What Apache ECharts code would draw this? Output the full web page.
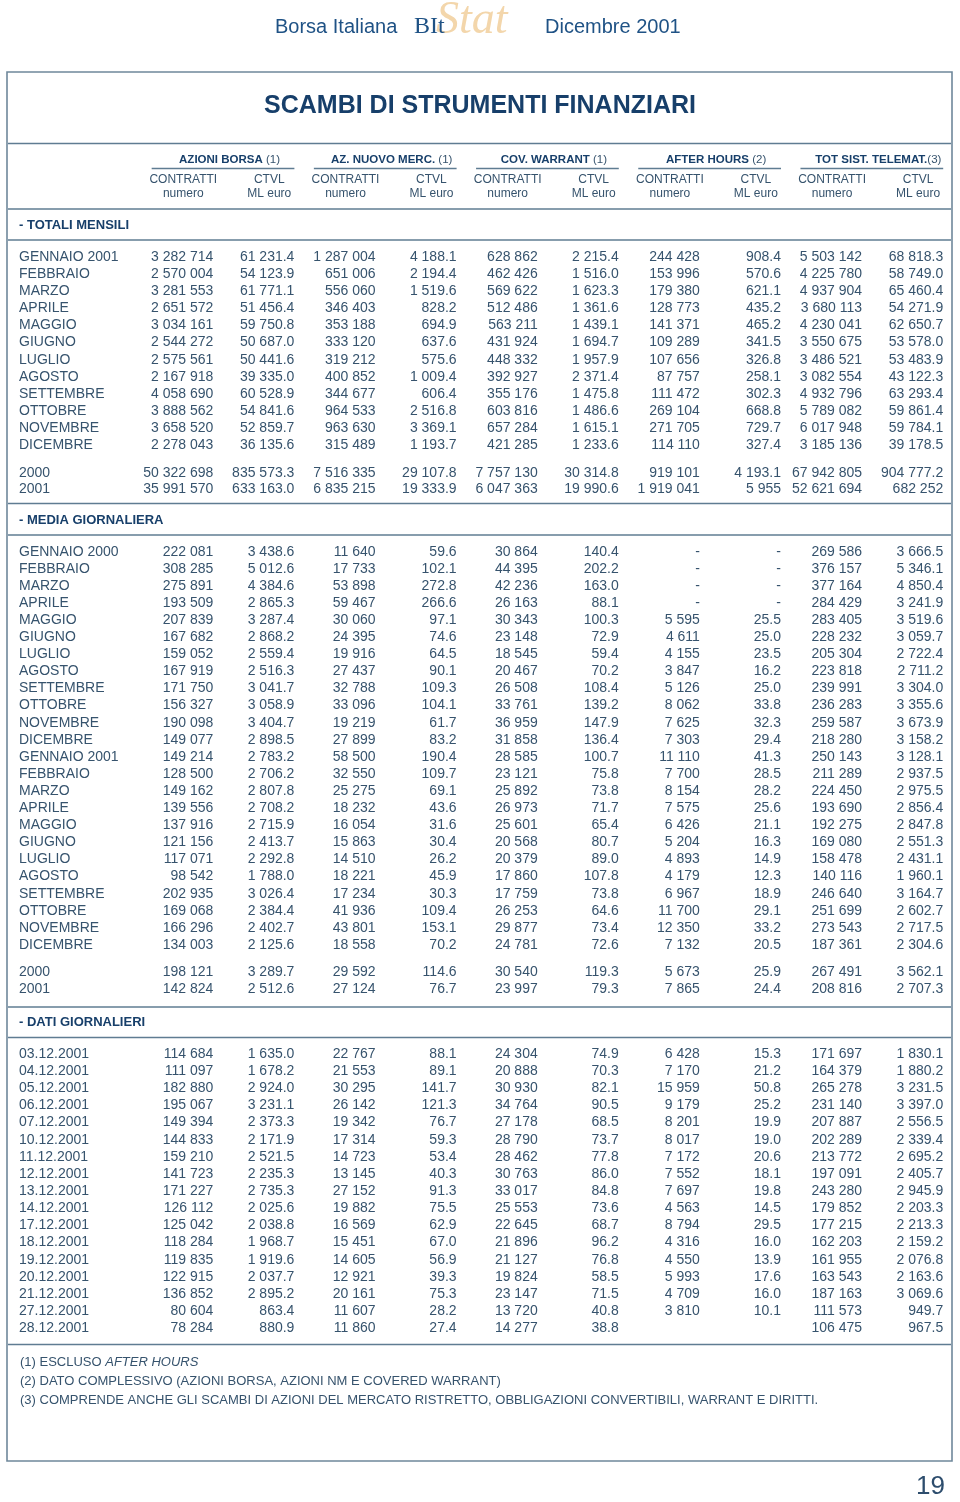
<!DOCTYPE html>
<html><head><meta charset="utf-8">
<script src="https://cdn.jsdelivr.net/npm/echarts@6/dist/echarts.min.js"></script>
<style>html,body{margin:0;padding:0;background:#fff}#c{width:960px;height:1502px}</style>
</head><body><div id="c"></div>
<script>
// ---------- DATA ----------
const groupTitles = [['AZIONI BORSA', ' (1)'], ['AZ. NUOVO MERC.', ' (1)'], ['COV. WARRANT', ' (1)'], ['AFTER HOURS', ' (2)'], ['TOT SIST. TELEMAT.', '(3)']];
const subHeaders = [['CONTRATTI', 'numero'], ['CTVL', 'ML euro']];
const sectionTitles = ['- TOTALI MENSILI', '- MEDIA GIORNALIERA', '- DATI GIORNALIERI'];

const months2001 = ['GENNAIO 2001', 'FEBBRAIO', 'MARZO', 'APRILE', 'MAGGIO', 'GIUGNO', 'LUGLIO', 'AGOSTO', 'SETTEMBRE', 'OTTOBRE', 'NOVEMBRE', 'DICEMBRE'];
const months2000_2001 = ['GENNAIO 2000', 'FEBBRAIO', 'MARZO', 'APRILE', 'MAGGIO', 'GIUGNO', 'LUGLIO', 'AGOSTO', 'SETTEMBRE', 'OTTOBRE', 'NOVEMBRE', 'DICEMBRE',
  'GENNAIO 2001', 'FEBBRAIO', 'MARZO', 'APRILE', 'MAGGIO', 'GIUGNO', 'LUGLIO', 'AGOSTO', 'SETTEMBRE', 'OTTOBRE', 'NOVEMBRE', 'DICEMBRE'];
const years = ['2000', '2001'];
const days = ['03.12.2001', '04.12.2001', '05.12.2001', '06.12.2001', '07.12.2001', '10.12.2001', '11.12.2001', '12.12.2001', '13.12.2001', '14.12.2001',
  '17.12.2001', '18.12.2001', '19.12.2001', '20.12.2001', '21.12.2001', '27.12.2001', '28.12.2001'];

// columns: azioni contratti, azioni ctvl, nm contratti, nm ctvl, cw contratti, cw ctvl, ah contratti, ah ctvl, tot contratti, tot ctvl
const totaliMensili = [
  [3282714, 61231.4, 1287004, 4188.1, 628862, 2215.4, 244428, 908.4, 5503142, 68818.3],
  [2570004, 54123.9, 651006, 2194.4, 462426, 1516.0, 153996, 570.6, 4225780, 58749.0],
  [3281553, 61771.1, 556060, 1519.6, 569622, 1623.3, 179380, 621.1, 4937904, 65460.4],
  [2651572, 51456.4, 346403, 828.2, 512486, 1361.6, 128773, 435.2, 3680113, 54271.9],
  [3034161, 59750.8, 353188, 694.9, 563211, 1439.1, 141371, 465.2, 4230041, 62650.7],
  [2544272, 50687.0, 333120, 637.6, 431924, 1694.7, 109289, 341.5, 3550675, 53578.0],
  [2575561, 50441.6, 319212, 575.6, 448332, 1957.9, 107656, 326.8, 3486521, 53483.9],
  [2167918, 39335.0, 400852, 1009.4, 392927, 2371.4, 87757, 258.1, 3082554, 43122.3],
  [4058690, 60528.9, 344677, 606.4, 355176, 1475.8, 111472, 302.3, 4932796, 63293.4],
  [3888562, 54841.6, 964533, 2516.8, 603816, 1486.6, 269104, 668.8, 5789082, 59861.4],
  [3658520, 52859.7, 963630, 3369.1, 657284, 1615.1, 271705, 729.7, 6017948, 59784.1],
  [2278043, 36135.6, 315489, 1193.7, 421285, 1233.6, 114110, 327.4, 3185136, 39178.5]
];
const totaliAnnui = [
  [50322698, 835573.3, 7516335, 29107.8, 7757130, 30314.8, 919101, 4193.1, 67942805, 904777.2],
  [35991570, 633163.0, 6835215, 19333.9, 6047363, 19990.6, 1919041, 5955, 52621694, 682252]
];
const mediaMensile = [
  [222081, 3438.6, 11640, 59.6, 30864, 140.4, null, null, 269586, 3666.5],
  [308285, 5012.6, 17733, 102.1, 44395, 202.2, null, null, 376157, 5346.1],
  [275891, 4384.6, 53898, 272.8, 42236, 163.0, null, null, 377164, 4850.4],
  [193509, 2865.3, 59467, 266.6, 26163, 88.1, null, null, 284429, 3241.9],
  [207839, 3287.4, 30060, 97.1, 30343, 100.3, 5595, 25.5, 283405, 3519.6],
  [167682, 2868.2, 24395, 74.6, 23148, 72.9, 4611, 25.0, 228232, 3059.7],
  [159052, 2559.4, 19916, 64.5, 18545, 59.4, 4155, 23.5, 205304, 2722.4],
  [167919, 2516.3, 27437, 90.1, 20467, 70.2, 3847, 16.2, 223818, 2711.2],
  [171750, 3041.7, 32788, 109.3, 26508, 108.4, 5126, 25.0, 239991, 3304.0],
  [156327, 3058.9, 33096, 104.1, 33761, 139.2, 8062, 33.8, 236283, 3355.6],
  [190098, 3404.7, 19219, 61.7, 36959, 147.9, 7625, 32.3, 259587, 3673.9],
  [149077, 2898.5, 27899, 83.2, 31858, 136.4, 7303, 29.4, 218280, 3158.2],
  [149214, 2783.2, 58500, 190.4, 28585, 100.7, 11110, 41.3, 250143, 3128.1],
  [128500, 2706.2, 32550, 109.7, 23121, 75.8, 7700, 28.5, 211289, 2937.5],
  [149162, 2807.8, 25275, 69.1, 25892, 73.8, 8154, 28.2, 224450, 2975.5],
  [139556, 2708.2, 18232, 43.6, 26973, 71.7, 7575, 25.6, 193690, 2856.4],
  [137916, 2715.9, 16054, 31.6, 25601, 65.4, 6426, 21.1, 192275, 2847.8],
  [121156, 2413.7, 15863, 30.4, 20568, 80.7, 5204, 16.3, 169080, 2551.3],
  [117071, 2292.8, 14510, 26.2, 20379, 89.0, 4893, 14.9, 158478, 2431.1],
  [98542, 1788.0, 18221, 45.9, 17860, 107.8, 4179, 12.3, 140116, 1960.1],
  [202935, 3026.4, 17234, 30.3, 17759, 73.8, 6967, 18.9, 246640, 3164.7],
  [169068, 2384.4, 41936, 109.4, 26253, 64.6, 11700, 29.1, 251699, 2602.7],
  [166296, 2402.7, 43801, 153.1, 29877, 73.4, 12350, 33.2, 273543, 2717.5],
  [134003, 2125.6, 18558, 70.2, 24781, 72.6, 7132, 20.5, 187361, 2304.6]
];
const mediaAnnua = [
  [198121, 3289.7, 29592, 114.6, 30540, 119.3, 5673, 25.9, 267491, 3562.1],
  [142824, 2512.6, 27124, 76.7, 23997, 79.3, 7865, 24.4, 208816, 2707.3]
];
const datiGiornalieri = [
  [114684, 1635.0, 22767, 88.1, 24304, 74.9, 6428, 15.3, 171697, 1830.1],
  [111097, 1678.2, 21553, 89.1, 20888, 70.3, 7170, 21.2, 164379, 1880.2],
  [182880, 2924.0, 30295, 141.7, 30930, 82.1, 15959, 50.8, 265278, 3231.5],
  [195067, 3231.1, 26142, 121.3, 34764, 90.5, 9179, 25.2, 231140, 3397.0],
  [149394, 2373.3, 19342, 76.7, 27178, 68.5, 8201, 19.9, 207887, 2556.5],
  [144833, 2171.9, 17314, 59.3, 28790, 73.7, 8017, 19.0, 202289, 2339.4],
  [159210, 2521.5, 14723, 53.4, 28462, 77.8, 7172, 20.6, 213772, 2695.2],
  [141723, 2235.3, 13145, 40.3, 30763, 86.0, 7552, 18.1, 197091, 2405.7],
  [171227, 2735.3, 27152, 91.3, 33017, 84.8, 7697, 19.8, 243280, 2945.9],
  [126112, 2025.6, 19882, 75.5, 25553, 73.6, 4563, 14.5, 179852, 2203.3],
  [125042, 2038.8, 16569, 62.9, 22645, 68.7, 8794, 29.5, 177215, 2213.3],
  [118284, 1968.7, 15451, 67.0, 21896, 96.2, 4316, 16.0, 162203, 2159.2],
  [119835, 1919.6, 14605, 56.9, 21127, 76.8, 4550, 13.9, 161955, 2076.8],
  [122915, 2037.7, 12921, 39.3, 19824, 58.5, 5993, 17.6, 163543, 2163.6],
  [136852, 2895.2, 20161, 75.3, 23147, 71.5, 4709, 16.0, 187163, 3069.6],
  [80604, 863.4, 11607, 28.2, 13720, 40.8, 3810, 10.1, 111573, 949.7],
  [78284, 880.9, 11860, 27.4, 14277, 38.8, '', '', 106475, 967.5]
];
const footnotes = ['(1) ESCLUSO {i|AFTER HOURS}', '(2) DATO COMPLESSIVO (AZIONI BORSA, AZIONI NM E COVERED WARRANT)',
  '(3) COMPRENDE ANCHE GLI SCAMBI DI AZIONI DEL MERCATO RISTRETTO, OBBLIGAZIONI CONVERTIBILI, WARRANT E DIRITTI.'];

// ---------- STYLE / LAYOUT ----------
const FONT = "'Liberation Sans', Arial, sans-serif";
const TXT = '#36536d';
const NAVY = '#173f6a';
const LINE = '#5f7c92';
const colDec = [0, 1, 0, 1, 0, 1, 0, 1, 0, 1];
const noDecimalCells = { '1,1,7': true, '1,1,9': true }; // block,row,col printed without decimals

function fmt(v, d) {
  if (v === null) return '-';
  if (v === '') return '';
  const s = v.toFixed(d);
  const parts = s.split('.');
  const i = parts[0].replace(/\B(?=(\d{3})+(?!\d))/g, ' ');
  return parts.length > 1 ? i + '.' + parts[1] : i;
}

const blocks = [
  { rows: totaliMensili, labels: months2001, top: 248.8, height: 204.7 },
  { rows: totaliAnnui, labels: years, top: 464.4, height: 33.6 },
  { rows: mediaMensile, labels: months2000_2001, top: 543.1, height: 410.4 },
  { rows: mediaAnnua, labels: years, top: 963.0, height: 35.0 },
  { rows: datiGiornalieri, labels: days, top: 1045.4, height: 291.4 }
];

const GRID_LEFT = 132.2, GRID_W = 811;
const grids = [], xAxes = [], yAxes = [], series = [];
blocks.forEach((b, bi) => {
  grids.push({ left: GRID_LEFT, width: GRID_W, top: b.top, height: b.height, containLabel: false });
  xAxes.push({ type: 'value', gridIndex: bi, min: 0, max: 10, show: false });
  yAxes.push({
    type: 'category', gridIndex: bi, data: b.labels, inverse: true,
    axisLine: { show: false }, axisTick: { show: false }, splitLine: { show: false },
    axisLabel: { interval: 0, align: 'left', margin: GRID_LEFT - 19, color: TXT, fontSize: 14, fontFamily: FONT }
  });
  const data = [], texts = [];
  b.rows.forEach((row, r) => row.forEach((v, c) => {
    data.push([c + 1, r]);
    const d = noDecimalCells[bi + ',' + r + ',' + c] ? 0 : colDec[c];
    texts.push(fmt(v, d));
  }));
  series.push({
    type: 'custom', xAxisIndex: bi, yAxisIndex: bi, data: data, silent: true,
    renderItem: function (params, api) {
      const p = api.coord([api.value(0), api.value(1)]);
      return { type: 'text', x: p[0], y: p[1],
        style: { text: texts[params.dataIndex], align: 'right', verticalAlign: 'middle', fontSize: 14, fontFamily: FONT, fill: TXT } };
    }
  });
});

const chart = echarts.init(document.getElementById('c'), null, { renderer: 'canvas' });
chart.setOption({ animation: false, grid: grids, xAxis: xAxes, yAxis: yAxes, series: series });

// ---------- DECORATION (headers, rules, notes) ----------
function hline(y, x1, x2, w) { return { type: 'line', shape: { x1: x1, y1: y, x2: x2, y2: y }, style: { stroke: LINE, lineWidth: w || 1.5 }, silent: true }; }
function px(v) { return chart.convertToPixel({ xAxisIndex: 0 }, v); }

const g = [];
g.push({ type: 'rect', shape: { x: 7, y: 72, width: 945, height: 1389 }, style: { fill: null, stroke: '#6f889b', lineWidth: 1.6 } });
[143.5, 209, 240, 503.5, 535, 1007, 1037.5, 1344.5].forEach(y => g.push(hline(y, 8, 951)));

// page header
g.push({ type: 'text', x: 275, y: 27, style: { text: 'Borsa Italiana', fontSize: 20, fontFamily: FONT, fill: '#1f5285', verticalAlign: 'middle' } });
g.push({ type: 'text', x: 436, y: 21, style: { text: 'Stat', fontSize: 46, fontStyle: 'italic', fontFamily: "'Liberation Serif', serif", fill: '#f3d6ab', verticalAlign: 'middle' } });
g.push({ type: 'text', x: 414, y: 27, style: { text: 'BIt', fontSize: 24, fontFamily: "'Liberation Serif', serif", fill: '#1f5285', verticalAlign: 'middle' } });
g.push({ type: 'text', x: 545, y: 27, style: { text: 'Dicembre 2001', fontSize: 20, fontFamily: FONT, fill: '#1f5285', verticalAlign: 'middle' } });

// title
g.push({ type: 'text', x: 480, y: 106, style: { text: 'SCAMBI DI STRUMENTI FINANZIARI', fontSize: 25, fontWeight: 'bold', fontFamily: FONT, fill: NAVY, align: 'center', verticalAlign: 'middle' } });

// column group headers
groupTitles.forEach((t, k) => {
  const cR = 2 * k + 1, vR = 2 * k + 2;
  const x1 = px(cR - 0.76), x2 = px(vR);
  g.push({ type: 'text', x: px(vR - 0.80), y: 160, style: {
    text: '{b|' + t[0] + '}{n|' + t[1] + '}', align: 'center', verticalAlign: 'middle',
    rich: { b: { fontSize: 11.5, fontWeight: 'bold', fontFamily: FONT, fill: NAVY }, n: { fontSize: 11.5, fontFamily: FONT, fill: TXT } } } });
  g.push(hline(168.5, x1, x2, 1.5));
  subHeaders.forEach((s, j) => {
    const col = 2 * k + 1 + j;
    const xc = px(col - (j === 0 ? 0.37 : 0.31));
    g.push({ type: 'text', x: xc, y: 179.5, style: { text: s[0], fontSize: 12, fontFamily: FONT, fill: TXT, align: 'center', verticalAlign: 'middle' } });
    g.push({ type: 'text', x: xc, y: 193.5, style: { text: s[1], fontSize: 12, fontFamily: FONT, fill: TXT, align: 'center', verticalAlign: 'middle' } });
  });
});

// section titles
[225.5, 520, 1022.5].forEach((y, i) => g.push({ type: 'text', x: 19, y: y, style: { text: sectionTitles[i], fontSize: 13, fontWeight: 'bold', fontFamily: FONT, fill: NAVY, verticalAlign: 'middle' } }));

// footnotes
[1362, 1381, 1400].forEach((y, i) => g.push({ type: 'text', x: 20, y: y, style: {
  text: footnotes[i], fontSize: 13, fontFamily: FONT, fill: TXT, verticalAlign: 'middle',
  rich: { i: { fontSize: 13, fontStyle: 'italic', fontFamily: FONT, fill: TXT } } } }));

// page number
g.push({ type: 'text', x: 945, y: 1487, style: { text: '19', fontSize: 26, fontFamily: FONT, fill: '#2d4d6d', align: 'right', verticalAlign: 'middle' } });

chart.setOption({ graphic: { elements: g } });
</script>
</body></html>
